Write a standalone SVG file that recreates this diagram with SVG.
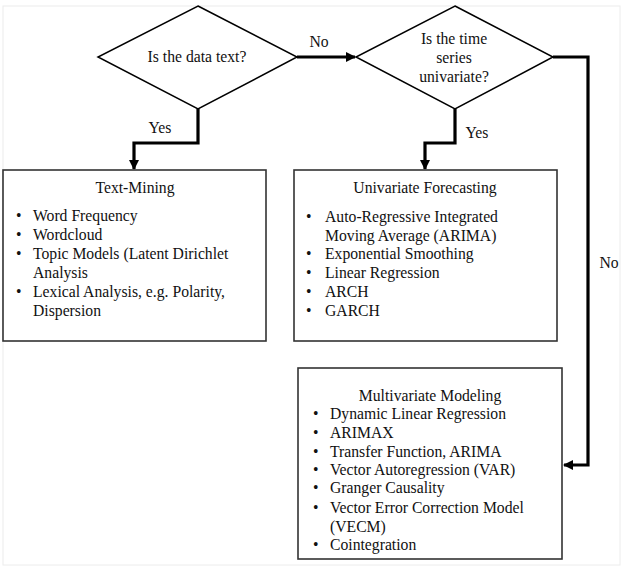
<svg xmlns="http://www.w3.org/2000/svg" width="622" height="572" viewBox="0 0 622 572">
<defs>
<style>
text{font-family:"Liberation Serif","Times New Roman",serif;font-size:15.7px;fill:#111}
.c{text-anchor:middle}
.dia{fill:#fff;stroke:#000;stroke-width:1.5}
.box{fill:#fff;stroke:#333;stroke-width:1.6}
.con{fill:none;stroke:#000;stroke-width:3.2;stroke-linejoin:miter}
</style>
<marker id="ah" viewBox="0 0 10 10" refX="9" refY="5" markerWidth="3.2" markerHeight="3.2" orient="auto" markerUnits="strokeWidth">
<path d="M0,0 L10,5 L0,10 Z" fill="#000"/>
</marker>
</defs>
<rect x="0" y="0" width="622" height="572" fill="#fff"/>
<rect x="3" y="6" width="617" height="559" fill="none" stroke="#ececec" stroke-width="1"/>
<g id="connectors">
<path class="con" d="M297,57 H355" marker-end="url(#ah)"/>
<path class="con" d="M198,109 V143 H134 V169" marker-end="url(#ah)"/>
<path class="con" d="M455,109 V143 H425 V169" marker-end="url(#ah)"/>
<path class="con" d="M553,57 H588 V465 H564" marker-end="url(#ah)"/>
<text x="319" y="47" class="c">No</text>
<text x="160" y="133" class="c">Yes</text>
<text x="477" y="138" class="c">Yes</text>
<text x="609" y="268" class="c">No</text>
</g>
<g id="q1">
<polygon class="dia" points="198,6 297,57 198,109 98,57"/>
<text x="197" y="62" class="c">Is the data text?</text>
</g>
<g id="q2">
<polygon class="dia" points="455,6 553,57 455,109 356,57"/>
<text x="454" y="44" class="c">Is the time</text>
<text x="454" y="63" class="c">series</text>
<text x="454" y="82" class="c">univariate?</text>
</g>
<g id="textmining">
<rect class="box" x="3" y="170" width="263" height="171"/>
<text x="135" y="193" class="c">Text-Mining</text>
<text x="16" y="221">•</text><text x="33" y="221">Word Frequency</text>
<text x="16" y="240">•</text><text x="33" y="240">Wordcloud</text>
<text x="16" y="259">•</text><text x="33" y="259">Topic Models (Latent Dirichlet</text>
<text x="33" y="278">Analysis</text>
<text x="16" y="297">•</text><text x="33" y="297">Lexical Analysis, e.g. Polarity,</text>
<text x="33" y="316">Dispersion</text>
</g>
<g id="univariate">
<rect class="box" x="294" y="170" width="263" height="171"/>
<text x="425" y="193" class="c">Univariate Forecasting</text>
<text x="306" y="222">•</text><text x="325" y="222">Auto-Regressive Integrated</text>
<text x="325" y="241">Moving Average (ARIMA)</text>
<text x="306" y="259">•</text><text x="325" y="259">Exponential Smoothing</text>
<text x="306" y="278">•</text><text x="325" y="278">Linear Regression</text>
<text x="306" y="297">•</text><text x="325" y="297">ARCH</text>
<text x="306" y="316">•</text><text x="325" y="316">GARCH</text>
</g>
<g id="multivariate">
<rect class="box" x="298" y="368" width="264" height="191"/>
<text x="430" y="401" class="c">Multivariate Modeling</text>
<text x="313" y="419">•</text><text x="330" y="419">Dynamic Linear Regression</text>
<text x="313" y="438">•</text><text x="330" y="438">ARIMAX</text>
<text x="313" y="457">•</text><text x="330" y="457">Transfer Function, ARIMA</text>
<text x="313" y="475">•</text><text x="330" y="475">Vector Autoregression (VAR)</text>
<text x="313" y="493">•</text><text x="330" y="493">Granger Causality</text>
<text x="313" y="513">•</text><text x="330" y="513">Vector Error Correction Model</text>
<text x="330" y="532">(VECM)</text>
<text x="313" y="550">•</text><text x="330" y="550">Cointegration</text>
</g>
</svg>
